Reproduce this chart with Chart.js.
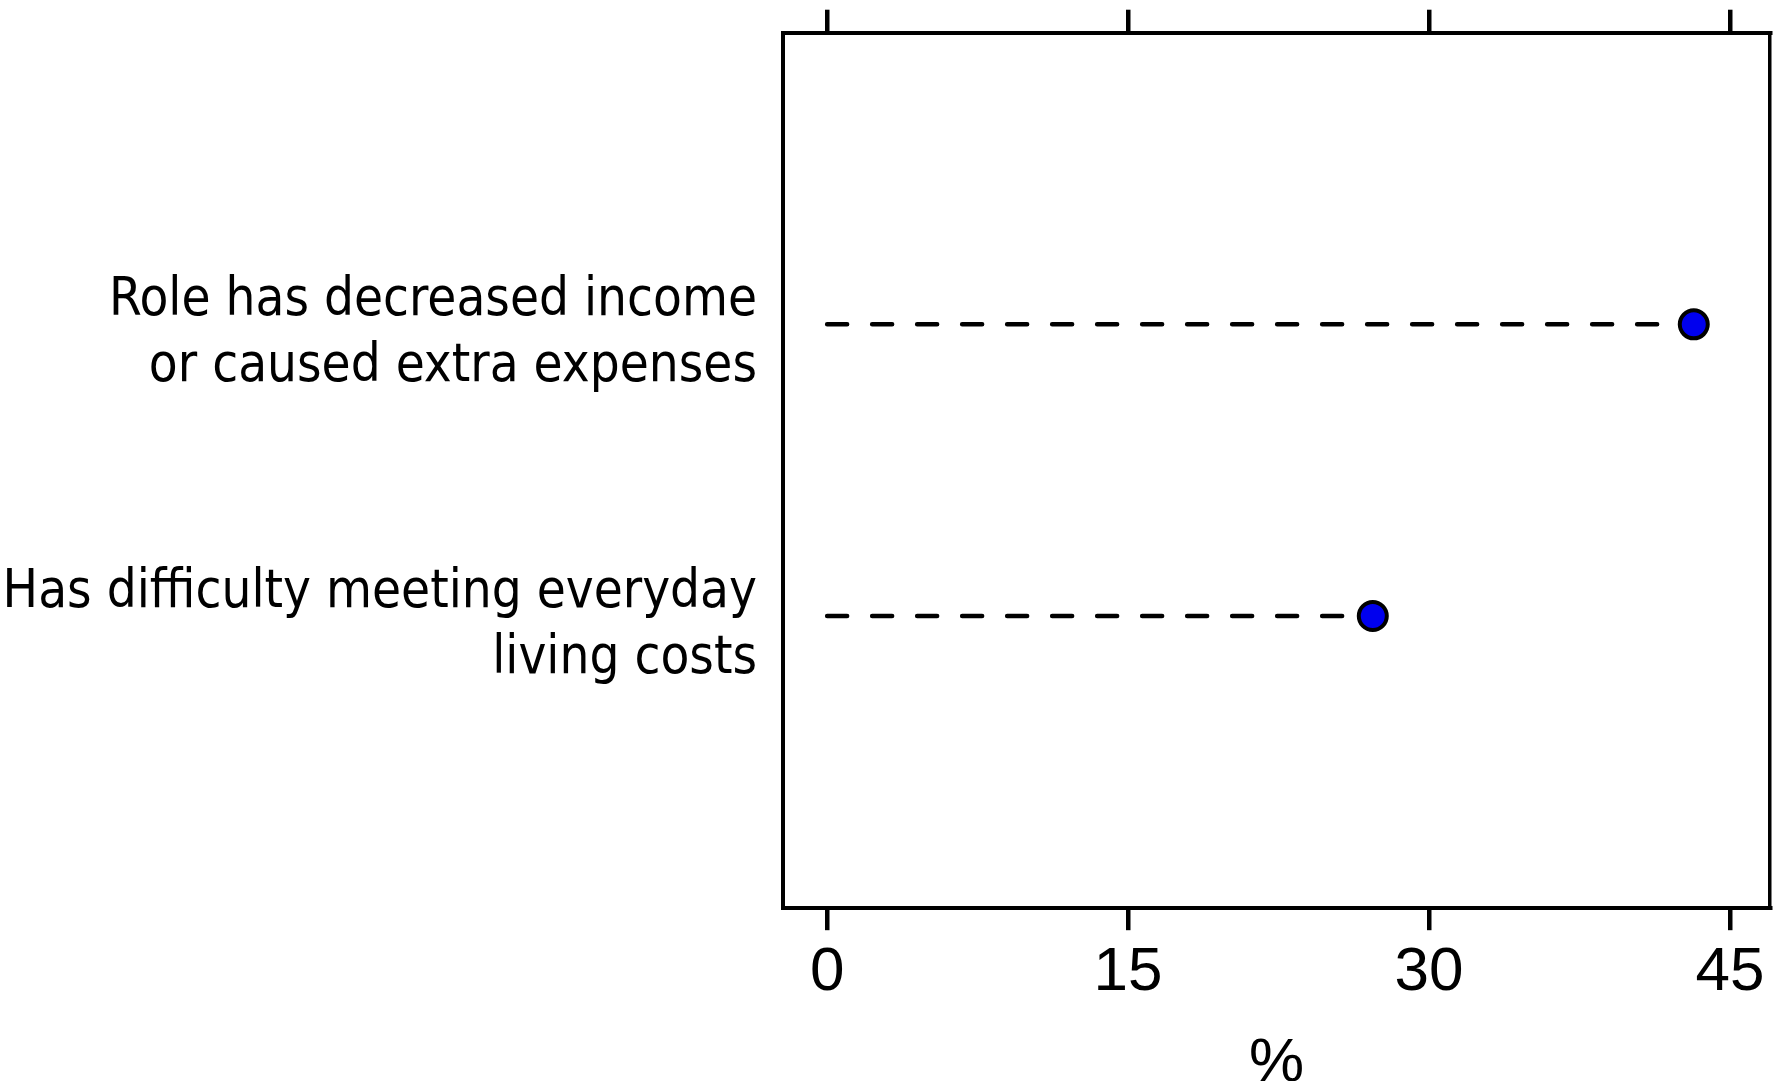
<!DOCTYPE html>
<html>
<head>
<meta charset="utf-8">
<script src="https://cdn.jsdelivr.net/npm/chart.js@4.4.1/dist/chart.umd.min.js"></script>
<style>
  body { margin: 0; background: #fff; }
  canvas { display: block; }
</style>
</head>
<body>
<canvas id="chart" width="1773" height="1081"></canvas>
<script>
// Datos del gráfico
const categories = [
    ['Role has decreased income', 'or caused extra expenses'],
    ['Has difficulty meeting everyday', 'living costs']
];
const values = [43.2, 27.2];
const xTicks = [0, 15, 30, 45];
const xTitle = '%';

// posición vertical de cada categoría (arriba = 2)
const rows = categories.map((c, i) => categories.length - i);

const datasets = values.map((v, i) => ({
    data: [{ x: 0, y: rows[i] }, { x: v, y: rows[i] }],
    borderColor: '#000',
    borderWidth: 4.5,
    borderDash: [20, 25],
    borderCapStyle: 'round',
    pointRadius: [0, 14],
    pointBorderWidth: 4,
    pointBorderColor: '#000',
    pointBackgroundColor: '#0000ee',
    fill: false
}));

const narrow = "'DejaVu Sans Condensed', 'Liberation Sans Narrow', sans-serif";
const regular = "'Liberation Sans', Arial, sans-serif";

// quitar el relleno automático de las escalas
function noPad(s) {
    s.paddingTop = 0;
    s.paddingBottom = 0;
    s.paddingLeft = 0;
    s.paddingRight = 0;
}

const ctx = document.getElementById('chart').getContext('2d');
new Chart(ctx, {
    type: 'line',
    data: { datasets: datasets },
    options: {
        responsive: false,
        animation: false,
        layout: { padding: 0, autoPadding: false },
        plugins: {
            legend: { display: false },
            tooltip: { enabled: false }
        },
        scales: {
            x: {
                type: 'linear',
                position: 'bottom',
                min: -2.2,
                max: 47,
                afterBuildTicks: (s) => { s.ticks = xTicks.map(v => ({ value: v })); },
                afterFit: (s) => { s.height = 173.3; noPad(s); },
                grid: {
                    drawOnChartArea: false,
                    drawTicks: true,
                    tickLength: 22.5,
                    lineWidth: 4.5,
                    color: '#000'
                },
                border: { display: true, width: 4, color: '#000' },
                ticks: {
                    color: '#000',
                    padding: 12,
                    font: { family: regular, size: 62, lineHeight: 1 }
                },
                title: {
                    display: true,
                    text: xTitle,
                    color: '#000',
                    font: { family: regular, size: 62, lineHeight: 0.4 },
                    padding: { top: 0, bottom: 5 }
                }
            },
            xTop: {
                type: 'linear',
                position: 'top',
                min: -2.2,
                max: 47,
                afterBuildTicks: (s) => { s.ticks = xTicks.map(v => ({ value: v })); },
                afterFit: (s) => { s.height = 32.7; noPad(s); },
                grid: {
                    drawOnChartArea: false,
                    drawTicks: true,
                    tickLength: 23,
                    lineWidth: 4.5,
                    color: '#000'
                },
                border: { display: true, width: 4, color: '#000' },
                ticks: { display: false }
            },
            y: {
                type: 'linear',
                position: 'left',
                min: 0,
                max: 3,
                afterBuildTicks: (s) => { s.ticks = rows.map(r => ({ value: r })); },
                afterFit: (s) => { s.width = 783; noPad(s); },
                grid: { display: false, drawTicks: false },
                border: { display: true, width: 4, color: '#000' },
                ticks: {
                    color: '#000',
                    padding: 26,
                    labelOffset: 10,
                    font: { family: narrow, size: 52.5, lineHeight: 1.26 },
                    callback: (value) => {
                        const i = rows.indexOf(value);
                        return i >= 0 ? categories[i] : '';
                    }
                }
            },
            yRight: {
                type: 'linear',
                position: 'right',
                min: 0,
                max: 3,
                afterFit: (s) => { s.width = 3; noPad(s); },
                grid: { display: false, drawTicks: false },
                border: { display: true, width: 3.5, color: '#000' },
                ticks: { display: false }
            }
        }
    }
});
</script>
</body>
</html>
